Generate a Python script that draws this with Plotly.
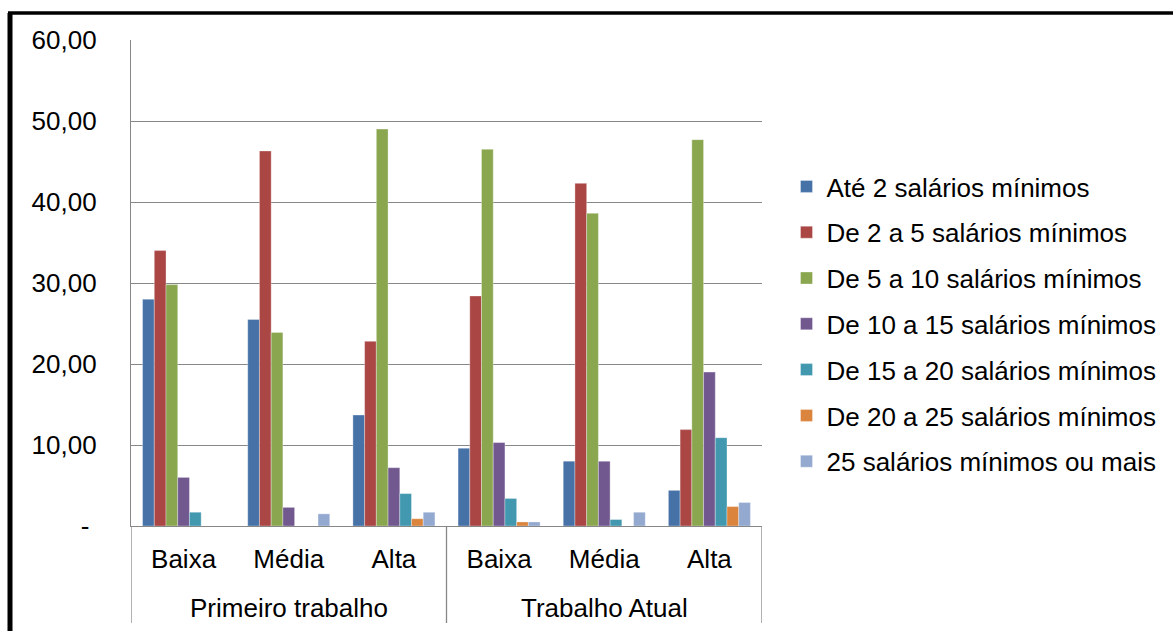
import plotly.graph_objects as go

# Categorias: grupo (segundo nível) e faixa (primeiro nível) de cada posição no eixo X
grupos = ["Primeiro trabalho"] * 3 + ["Trabalho Atual"] * 3
faixas = ["Baixa", "Média", "Alta", "Baixa", "Média", "Alta"]

# Séries (percentuais por faixa salarial)
ate_2 = [28.0, 25.5, 13.7, 9.6, 8.0, 4.4]
de_2_a_5 = [34.0, 46.3, 22.8, 28.4, 42.3, 11.9]
de_5_a_10 = [29.8, 23.9, 49.0, 46.5, 38.6, 47.7]
de_10_a_15 = [6.0, 2.3, 7.2, 10.3, 8.0, 19.0]
de_15_a_20 = [1.7, 0.0, 4.0, 3.4, 0.8, 10.9]
de_20_a_25 = [0.0, 0.0, 0.9, 0.5, 0.0, 2.4]
mais_25 = [0.0, 1.5, 1.7, 0.5, 1.7, 2.9]

nomes = [
    "Até 2 salários mínimos",
    "De 2 a 5 salários mínimos",
    "De 5 a 10 salários mínimos",
    "De 10 a 15 salários mínimos",
    "De 15 a 20 salários mínimos",
    "De 20 a 25 salários mínimos",
    "25 salários mínimos ou mais",
]
valores = [ate_2, de_2_a_5, de_5_a_10, de_10_a_15, de_15_a_20, de_20_a_25, mais_25]
cores = ["#4672A8", "#AA4644", "#8AA64F", "#71588F", "#4198AF", "#DB843D", "#93A9CF"]

# Eixo Y
y_ticks = [0, 10, 20, 30, 40, 50, 60]
y_labels = ["-\u00a0", "10,00", "20,00", "30,00", "40,00", "50,00", "60,00"]

FONTE = 26
cinza = "#878787"

posicoes = list(range(len(faixas)))

fig = go.Figure()
for nome, vals, cor in zip(nomes, valores, cores):
    fig.add_trace(
        go.Bar(
            x=posicoes,
            y=vals,
            name=nome,
            legendgroup=nome,
            marker=dict(color=cor, line=dict(color="rgba(255,255,255,0.55)", width=0.6)),
        )
    )

W, H = 1173, 631
L, R, T, B = 131, 762, 40, 526


def px_x(p):
    return (p - L) / (R - L)


def px_y(p):
    return (B - p) / (B - T)


# Grupos do eixo X: rótulo centrado e divisórias nas fronteiras
nomes_grupos = []
for g in grupos:
    if g not in nomes_grupos:
        nomes_grupos.append(g)

anotacoes = []
divisorias = []
fronteiras = [-0.5]
for g in nomes_grupos:
    idx = [i for i, gg in enumerate(grupos) if gg == g]
    anotacoes.append(
        dict(x=(idx[0] + idx[-1]) / 2, xref="x", y=px_y(607.5), yref="paper",
             text=g, showarrow=False, yanchor="middle", xanchor="center",
             font=dict(size=FONTE, color="black"))
    )
    fronteiras.append(idx[-1] + 0.5)
for fx in fronteiras:
    divisorias.append(
        dict(type="line", xref="x", yref="paper", x0=fx, x1=fx,
             y0=0, y1=px_y(623), line=dict(color=cinza, width=1.3))
    )

moldura = [
    dict(type="line", xref="paper", yref="paper",
         x0=px_x(10), x1=px_x(10), y0=px_y(13), y1=px_y(700),
         line=dict(color="black", width=5)),
    dict(type="line", xref="paper", yref="paper",
         x0=px_x(8), x1=px_x(1200), y0=px_y(13), y1=px_y(13),
         line=dict(color="black", width=3.5)),
]

fig.update_layout(
    width=W,
    height=H,
    margin=dict(l=L, r=W - R, t=T, b=H - B, pad=0),
    barmode="group",
    bargap=0.22,
    bargroupgap=0,
    plot_bgcolor="white",
    paper_bgcolor="white",
    font=dict(family="Liberation Sans, Arial, sans-serif", size=FONTE, color="black"),
    showlegend=True,
    legend=dict(
        x=px_x(786.5),
        xanchor="left",
        y=px_y(324),
        yanchor="middle",
        traceorder="grouped",
        tracegroupgap=9,
        font=dict(size=FONTE),
        bgcolor="rgba(0,0,0,0)",
    ),
    annotations=anotacoes,
    shapes=divisorias + moldura,
)

fig.update_yaxes(
    range=[0, 60],
    tickvals=y_ticks,
    ticktext=y_labels,
    showgrid=True,
    gridcolor=cinza,
    gridwidth=1.3,
    showline=True,
    linecolor=cinza,
    linewidth=1.3,
    ticks="",
    ticklabelstandoff=28,
    zeroline=False,
)

fig.update_xaxes(
    range=[-0.5, len(faixas) - 0.5],
    tickvals=posicoes,
    ticktext=faixas,
    tickfont=dict(size=FONTE),
    ticklabelstandoff=10,
    showline=True,
    linecolor=cinza,
    linewidth=1.3,
    ticks="",
    showgrid=False,
    zeroline=False,
)

fig.write_html("out.html")
